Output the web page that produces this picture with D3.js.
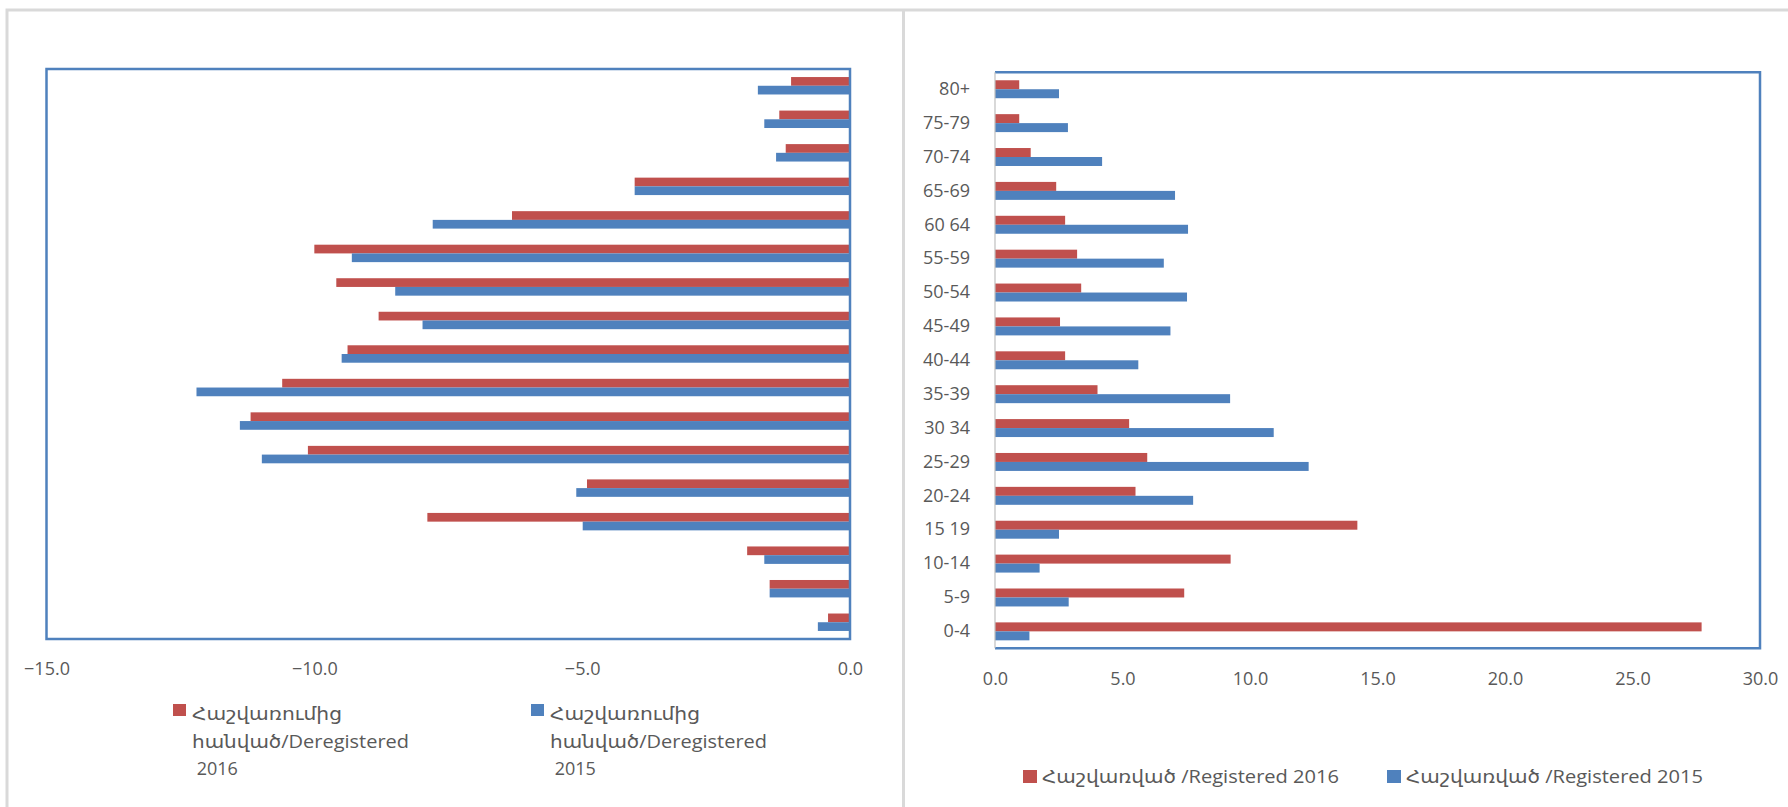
<!DOCTYPE html>
<html>
<head>
<meta charset="utf-8">
<script src="https://cdn.jsdelivr.net/npm/d3@7"></script>
<style>
  html, body { margin: 0; padding: 0; background: #fff; }
  svg { display: block; }
  text { font-family: "Open Sans", "DejaVu Sans", sans-serif; fill: #595959; }
</style>
</head>
<body>
<svg id="chart" width="1788" height="807"></svg>
<script>
// ---- Data ----
const categories = ["0-4","5-9","10-14","15 19","20-24","25-29","30 34","35-39","40-44","45-49","50-54","55-59","60 64","65-69","70-74","75-79","80+"];

// Left chart: deregistered (negative values)
const dereg2016 = [-0.41,-1.5,-1.92,-7.89,-4.91,-10.12,-11.19,-10.6,-9.38,-8.8,-9.59,-10.0,-6.31,-4.02,-1.2,-1.32,-1.1];
const dereg2015 = [-0.6,-1.5,-1.6,-4.99,-5.11,-10.98,-11.39,-12.2,-9.49,-7.98,-8.49,-9.3,-7.79,-4.02,-1.38,-1.6,-1.72];

// Right chart: registered
const reg2016 = [27.71,7.42,9.24,14.21,5.51,5.97,5.26,4.02,2.75,2.55,3.38,3.22,2.75,2.4,1.4,0.95,0.95];
const reg2015 = [1.35,2.89,1.75,2.51,7.77,12.3,10.93,9.22,5.62,6.88,7.53,6.62,7.57,7.06,4.2,2.86,2.51];

const leftTicks = [-15,-10,-5,0];
const rightTicks = [0,5,10,15,20,25,30];

const leftLegend = [
  {lines:["Հաշվառումից","հանված/Deregistered"," 2016"], color:"#C0504D"},
  {lines:["Հաշվառումից","հանված/Deregistered"," 2015"], color:"#4F81BD"}
];
const rightLegend = [
  {label:"Հաշվառված /Registered 2016", color:"#C0504D"},
  {label:"Հաշվառված /Registered 2015", color:"#4F81BD"}
];

// ---- Styles ----
const RED = "#C0504D", BLUE = "#4F81BD", FRAME = "#4F81BD";
const svg = d3.select("#chart");

// Panel borders
svg.append("path")
  .attr("d", "M7,807 V10 H1788 M903.5,10 V807")
  .attr("fill","none").attr("stroke","#D9D9D9").attr("stroke-width",3);

// ---------- LEFT CHART ----------
(function(){
  const L = {x0:46.5, x1:850, y0:69, y1:639};
  const x = d3.scaleLinear().domain([-15,0]).range([L.x0, L.x1]);
  const y = d3.scaleBand().domain(categories.slice().reverse()).range([L.y0, L.y1]);
  const bh = y.bandwidth()*0.26;
  const g = svg.append("g");
  const data = categories.map((c,i)=>({c, a:dereg2016[i], b:dereg2015[i]}));

  g.selectAll("rect.r").data(data).join("rect")
    .attr("x", d=>x(d.a)).attr("width", d=>x(0)-x(d.a))
    .attr("y", d=>y(d.c)+y.bandwidth()/2-bh).attr("height", bh)
    .attr("fill", RED);
  g.selectAll("rect.b").data(data).join("rect")
    .attr("x", d=>x(d.b)).attr("width", d=>x(0)-x(d.b))
    .attr("y", d=>y(d.c)+y.bandwidth()/2).attr("height", bh)
    .attr("fill", BLUE);

  g.append("rect").attr("x",L.x0).attr("y",L.y0)
    .attr("width",L.x1-L.x0).attr("height",L.y1-L.y0)
    .attr("fill","none").attr("stroke",FRAME).attr("stroke-width",2.5);

  const ax = g.append("g").attr("transform",`translate(0,${L.y1})`)
    .call(d3.axisBottom(x).tickValues(leftTicks).tickFormat(d3.format(".1f")).tickSize(0).tickPadding(23));
  ax.select(".domain").remove();
  ax.selectAll("text").attr("font-size",18).attr("font-family",null).style("fill","#595959");

  // legend
  const lx = [173, 531];
  leftLegend.forEach((it,i)=>{
    svg.append("rect").attr("x",lx[i]).attr("y",704).attr("width",13).attr("height",12).attr("fill",it.color);
    const widths = [150, 217, null];
    it.lines.forEach((ln,j)=>{
      const t = svg.append("text").attr("x",lx[i]+19).attr("y",720+j*27.5)
        .attr("font-size",18).style("white-space","pre").attr("xml:space","preserve").text(ln);
      if (widths[j]) t.attr("textLength",widths[j]).attr("lengthAdjust","spacingAndGlyphs");
    });
  });
})();

// ---------- RIGHT CHART ----------
(function(){
  const R = {x0:995, x1:1760, y0:72.3, y1:648.3};
  const x = d3.scaleLinear().domain([0,30]).range([R.x0, R.x1]);
  const y = d3.scaleBand().domain(categories.slice().reverse()).range([R.y0, R.y1]);
  const bh = y.bandwidth()*0.265;
  const g = svg.append("g");
  const data = categories.map((c,i)=>({c, a:reg2016[i], b:reg2015[i]}));

  g.selectAll("rect.r").data(data).join("rect")
    .attr("x", x(0)).attr("width", d=>x(d.a)-x(0))
    .attr("y", d=>y(d.c)+y.bandwidth()/2-bh).attr("height", bh)
    .attr("fill", RED);
  g.selectAll("rect.b").data(data).join("rect")
    .attr("x", x(0)).attr("width", d=>x(d.b)-x(0))
    .attr("y", d=>y(d.c)+y.bandwidth()/2).attr("height", bh)
    .attr("fill", BLUE);

  g.append("path")
    .attr("d",`M${R.x0},${R.y0} H${R.x1} V${R.y1} H${R.x0}`)
    .attr("fill","none").attr("stroke",FRAME).attr("stroke-width",2.5);
  g.append("line").attr("x1",R.x0).attr("x2",R.x0).attr("y1",R.y0).attr("y2",R.y1)
    .attr("stroke","#BFBFBF").attr("stroke-width",1.2);

  const ax = g.append("g").attr("transform",`translate(0,${R.y1})`)
    .call(d3.axisBottom(x).tickValues(rightTicks).tickFormat(d3.format(".1f")).tickSize(0).tickPadding(24));
  ax.select(".domain").remove();
  ax.selectAll("text").attr("font-size",18).attr("font-family",null).style("fill","#595959");

  const ay = g.append("g").attr("transform",`translate(${R.x0},0)`)
    .call(d3.axisLeft(y).tickSize(0).tickPadding(25));
  ay.select(".domain").remove();
  ay.selectAll("text").attr("font-size",18).attr("font-family",null).style("fill","#595959");

  // legend
  const lx = [1023, 1387];
  rightLegend.forEach((it,i)=>{
    svg.append("rect").attr("x",lx[i]).attr("y",770).attr("width",14).attr("height",13).attr("fill",it.color);
    svg.append("text").attr("x",lx[i]+19).attr("y",783).attr("font-size",18)
      .attr("textLength",297).attr("lengthAdjust","spacingAndGlyphs").text(it.label);
  });
})();
</script>
</body>
</html>
